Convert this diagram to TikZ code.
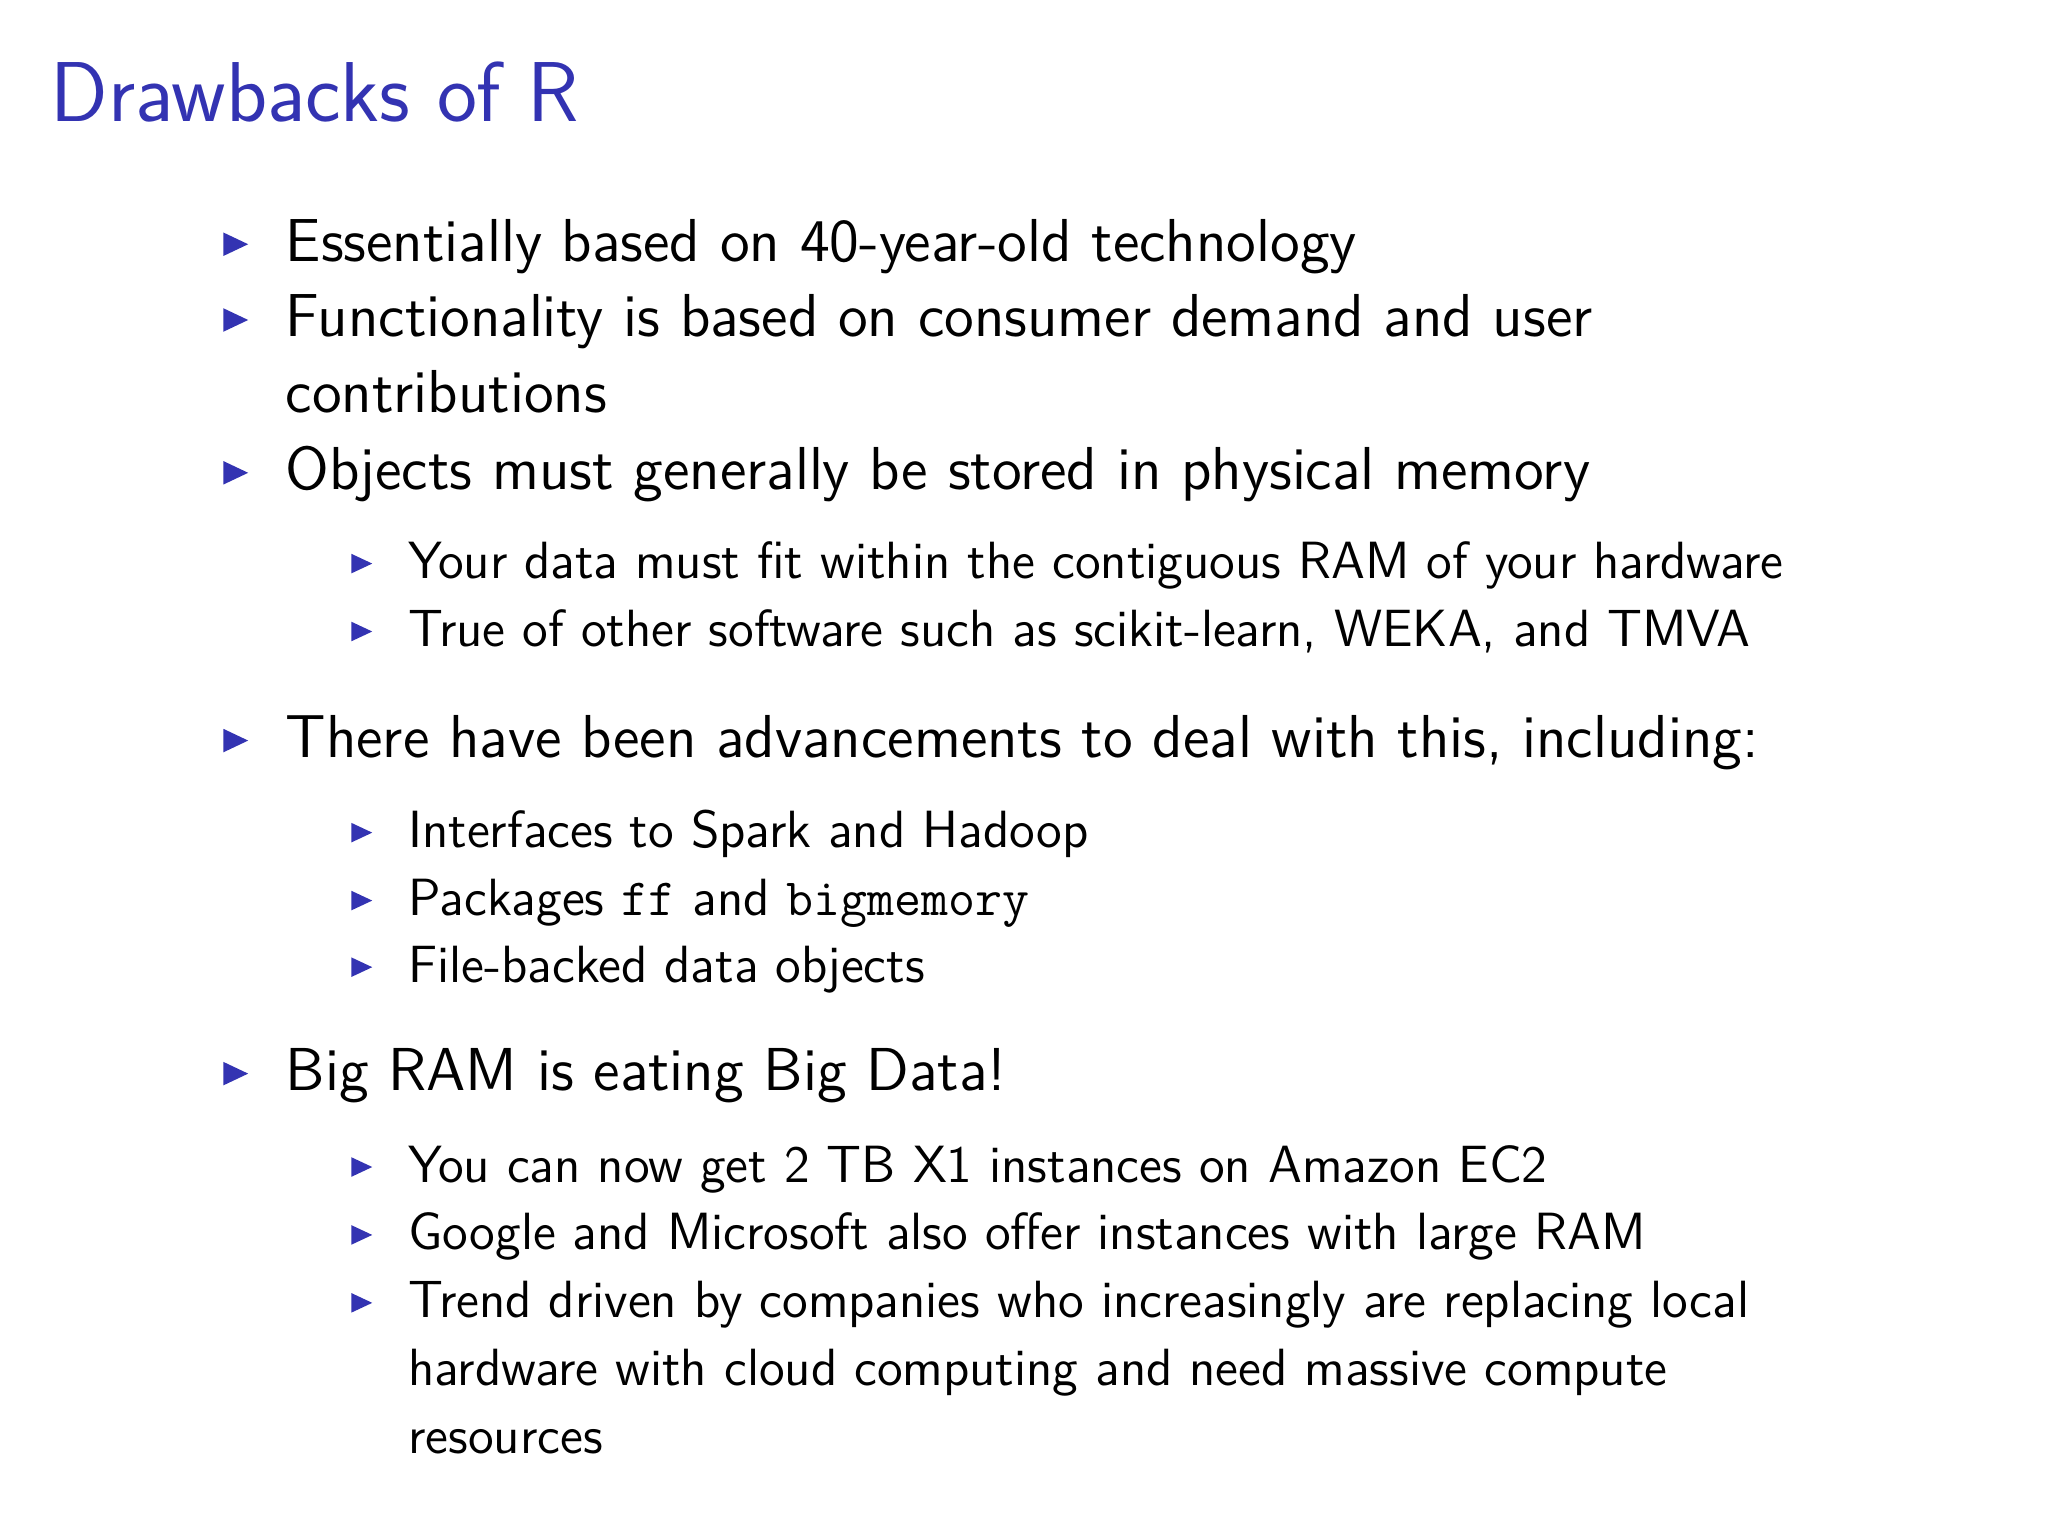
\documentclass[tikz,border=0pt]{standalone}
\begin{document}
\begin{tikzpicture}[x=0.01cm,y=-0.01cm,
  main/.style={anchor=base west,inner sep=0,font=\sffamily\fontsize{13.2}{15}\selectfont},
  sub/.style={anchor=base west,inner sep=0,font=\sffamily\fontsize{11.4}{13}\selectfont}]
\definecolor{bcol}{RGB}{51,51,178}
\fill[white] (0,0) rectangle (1568,1176);
\useasboundingbox (0,0) rectangle (1568,1176);
\node[anchor=base west,inner sep=0,text=bcol,font=\sffamily\fontsize{18.5}{22}\selectfont] (t) at (38,93) {Drawbacks of R};
\newcommand{\mainbul}[1]{\fill[bcol] (171,#1-22) -- (190,#1-13) -- (171,#1-4) -- cycle;}
\newcommand{\subbul}[1]{\fill[bcol] (269,#1-19) -- (285,#1-11.5) -- (269,#1-4) -- cycle;}
\mainbul{200}\node[main] (a1) at (218,200) {Essentially based on 40-year-old technology};
\mainbul{258}\node[main] (a2) at (218,258) {Functionality is based on consumer demand and user};
\node[main] (a2b) at (218,316) {contributions};
\mainbul{375}\node[main] (a3) at (218,375) {Objects must generally be stored in physical memory};
\subbul{443}\node[sub] (b1) at (312,443) {Your data must fit within the contiguous RAM of your hardware};
\subbul{495}\node[sub] (b2) at (312,495) {True of other software such as scikit-learn, WEKA, and TMVA};
\mainbul{580}\node[main] (a4) at (218,580) {There have been advancements to deal with this, including:};
\subbul{649}\node[sub] (c1) at (312,649) {Interfaces to Spark and Hadoop};
\subbul{701}\node[sub] (c2) at (312,701) {Packages \texttt{ff} and \texttt{bigmemory}};
\subbul{752}\node[sub] (c3) at (312,752) {File-backed data objects};
\mainbul{835}\node[main] (a5) at (218,835) {Big RAM is eating Big Data!};
\subbul{905}\node[sub] (d1) at (312,905) {You can now get 2 TB X1 instances on Amazon EC2};
\subbul{957}\node[sub] (d2) at (312,957) {Google and Microsoft also offer instances with large RAM};
\subbul{1009}\node[sub] (d3) at (312,1009) {Trend driven by companies who increasingly are replacing local};
\node[sub] (d3b) at (312,1061) {hardware with cloud computing and need massive compute};
\node[sub] (d3c) at (312,1113) {resources};
\end{tikzpicture}
\end{document}
